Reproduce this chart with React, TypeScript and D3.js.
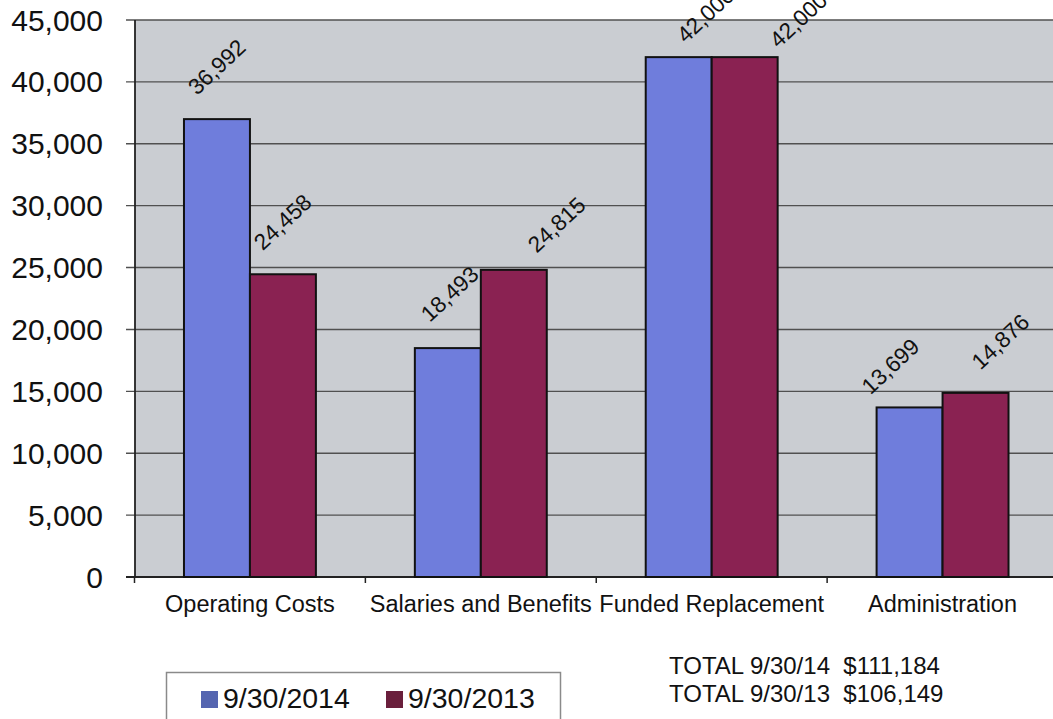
import React from "react";
import * as d3 from "d3";

const categories = ["Operating Costs", "Salaries and Benefits", "Funded Replacement", "Administration"];
const seriesNames = ["9/30/2014", "9/30/2013"];
const values2014 = [36992, 18493, 42000, 13699];
const values2013 = [24458, 24815, 42000, 14876];
const yTicks = [0, 5000, 10000, 15000, 20000, 25000, 30000, 35000, 40000, 45000];
const totalsLines = ["TOTAL 9/30/14  $111,184", "TOTAL 9/30/13  $106,149"];

// label nudges (relative offsets of data labels, per series / category)
const labelNudge2014: [number, number][] = [[0, 0], [2, -2], [27, 10], [-19, 11]];
const labelNudge2013: [number, number][] = [[0, 0], [43, 7], [54, 15], [25, 1]];

const W = 1053;
const H = 719;
const colors = ["#6f7ddc", "#8a2252"];
const legendColors = ["#5565b0", "#6a1f3c"];

export default function App() {
  const left = 135;
  const right = 1058;
  const top = 20;
  const bottom = 577;

  const y = d3.scaleLinear().domain([0, 45000]).range([bottom, top]);
  const x0 = d3.scaleBand<string>().domain(categories).range([left - 0.5, right]).padding(0);
  const x1 = d3
    .scaleBand<string>()
    .domain(seriesNames)
    .range([0, x0.bandwidth()])
    .paddingInner(0)
    .paddingOuter(0.75);

  const series = [values2014, values2013];
  const nudges = [labelNudge2014, labelNudge2013];
  const fmt = d3.format(",");

  const font = "'Liberation Sans', Arial, sans-serif";

  return (
    <svg
      width={W}
      height={H}
      style={{ position: "fixed", left: 0, top: 0, background: "#ffffff" }}
      fontFamily={font}
    >
      <rect x={0} y={0} width={W} height={H} fill="#ffffff" />
      {/* plot area */}
      <rect x={left} y={top} width={right - left} height={bottom - top} fill="#cacdd2" />
      {/* gridlines */}
      {yTicks.map((t) => (
        <line
          key={"g" + t}
          x1={left - 9}
          x2={right}
          y1={y(t)}
          y2={y(t)}
          stroke={t === 0 ? "#222" : "#505050"}
          strokeWidth={t === 0 ? 1.8 : 1.4}
        />
      ))}
      {/* y axis */}
      <line x1={left} x2={left} y1={top} y2={bottom} stroke="#222" strokeWidth={1.8} />
      {yTicks.map((t) => (
        <text
          key={"yl" + t}
          x={103}
          y={y(t)}
          textAnchor="end"
          dominantBaseline="central"
          fontSize={30}
          fill="#111"
        >
          {fmt(t)}
        </text>
      ))}
      {/* x ticks */}
      {categories.map((c) => (
        <line
          key={"xt" + c}
          x1={x0(c)!}
          x2={x0(c)!}
          y1={bottom}
          y2={bottom + 6}
          stroke="#222"
          strokeWidth={1.5}
        />
      ))}
      {/* bars */}
      {categories.map((c, ci) =>
        seriesNames.map((s, si) => {
          const v = series[si][ci];
          const bx = x0(c)! + x1(s)!;
          const by = y(v);
          return (
            <rect
              key={"b" + ci + "-" + si}
              x={bx}
              y={by}
              width={x1.bandwidth()}
              height={bottom - by}
              fill={colors[si]}
              stroke="#111"
              strokeWidth={2}
            />
          );
        })
      )}
      {/* data labels */}
      {categories.map((c, ci) =>
        seriesNames.map((s, si) => {
          const v = series[si][ci];
          const cx = x0(c)! + x1(s)! + x1.bandwidth() / 2 + nudges[si][ci][0];
          const cy = y(v) - 52 + nudges[si][ci][1];
          return (
            <text
              key={"l" + ci + "-" + si}
              x={0}
              y={0}
              transform={`translate(${cx},${cy}) rotate(-43)`}
              textAnchor="middle"
              dominantBaseline="central"
              fontSize={22.5}
              fill="#111"
            >
              {fmt(v)}
            </text>
          );
        })
      )}
      {/* category labels */}
      {categories.map((c) => (
        <text
          key={"cl" + c}
          x={x0(c)! + x0.bandwidth() / 2}
          y={612}
          textAnchor="middle"
          fontSize={23.5}
          fill="#111"
        >
          {c}
        </text>
      ))}
      {/* legend */}
      <rect x={166.5} y={672.5} width={394} height={60} fill="#ffffff" stroke="#8a8a8a" strokeWidth={1.5} />
      {seriesNames.map((s, i) => {
        const lx = 201 + i * 185;
        return (
          <g key={"lg" + s}>
            <rect x={lx} y={691} width={17} height={17} fill={legendColors[i]} />
            <text x={lx + 22} y={708} fontSize={28.5} fill="#111">
              {s}
            </text>
          </g>
        );
      })}
      {/* totals */}
      {totalsLines.map((t, i) => (
        <text key={"t" + i} x={669} y={674 + i * 28} fontSize={24} fill="#111" style={{ whiteSpace: "pre" }}>
          {t}
        </text>
      ))}
    </svg>
  );
}
